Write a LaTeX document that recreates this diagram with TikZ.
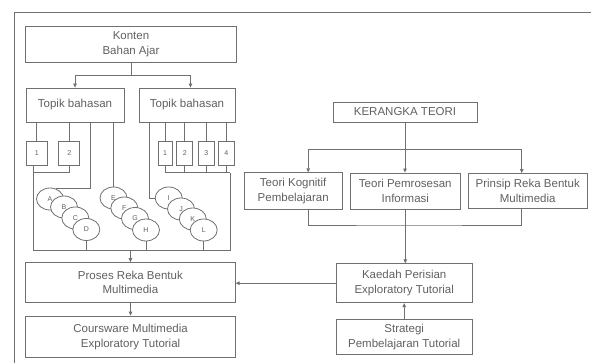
\documentclass[tikz,border=0pt]{standalone}
\usepackage{fontspec}
\setmainfont{Liberation Sans}
\usetikzlibrary{arrows.meta,shapes.geometric}
\definecolor{garis}{HTML}{707070}
\definecolor{teks}{HTML}{606060}
\tikzstyle{garisan} = [draw=garis, line width=0.8pt]
\tikzstyle{aliran} = [draw=garis, line width=0.8pt, -{Triangle[length=4pt,width=3.5pt]}]
\tikzstyle{kotak} = [draw=garis, line width=0.8pt, rectangle, inner sep=0pt, align=center, text=teks, font=\fontsize{11.5}{14.5}\selectfont]
\tikzstyle{nombor} = [draw=garis, line width=0.8pt, rectangle, inner sep=0pt, minimum width=16pt, minimum height=24pt, text=teks, font=\fontsize{7}{8}\selectfont]
\tikzstyle{bulat} = [draw=garis, fill=white, line width=0.8pt, ellipse, inner sep=0pt, minimum width=27pt, minimum height=22pt, text=teks, font=\fontsize{7}{8}\selectfont]

\begin{document}
\begin{tikzpicture}[x=1pt,y=-1pt]
	\useasboundingbox (0,0) rectangle (591,363);
	\draw[garisan] (591,12.5) -- (14.5,12.5) -- (14.5,363);
	% bahagian kiri
	\node[kotak, minimum width=211pt, minimum height=36pt](konten) at (131,44) {Konten\\Bahan Ajar};
	\node[kotak, minimum width=98pt, minimum height=34pt](topikA) at (75,105) {Topik bahasan};
	\node[kotak, minimum width=96pt, minimum height=34pt](topikB) at (187,105) {Topik bahasan};
	\node[nombor, minimum width=21pt](a1) at (36.7,153) {1};
	\node[nombor, minimum width=21pt](a2) at (69.3,153) {2};
	\node[nombor, minimum width=14pt](b1) at (165,153) {1};
	\node[nombor](b2) at (184.7,153) {2};
	\node[nombor](b3) at (206.3,153) {3};
	\node[nombor](b4) at (226.3,153) {4};
	\node[bulat](cA) at (50,199) {A};
	\node[bulat](cB) at (64,207) {B};
	\node[bulat](cC) at (75.3,218) {C};
	\node[bulat](cD) at (86.3,229.5) {D};
	\node[bulat](cE) at (113.5,198) {E};
	\node[bulat](cF) at (124.3,208) {F};
	\node[bulat](cG) at (135,218.5) {G};
	\node[bulat](cH) at (146,230) {H};
	\node[bulat](cI) at (168.7,198) {I};
	\node[bulat](cJ) at (181,209) {J};
	\node[bulat](cK) at (192.8,219) {K};
	\node[bulat](cL) at (203.7,230) {L};
	\node[kotak, minimum width=209.5pt, minimum height=40pt](proses) at (130.4,282.6) {Proses Reka Bentuk\\Multimedia};
	\node[kotak, minimum width=210pt, minimum height=41.5pt](coursware) at (130.6,336.8) {Coursware Multimedia\\Exploratory Tutorial};
	\coordinate (busL) at (33,250);
	\coordinate (busR) at (230,250);
	\coordinate (sambung) at (230,172.7);
	\draw[garisan] (konten.south) -- ++(0,13) coordinate (kbawah);
	\draw[aliran] (kbawah) -| (topikA.north);
	\draw[aliran] (kbawah) -| ([xshift=3.5pt]topikB.north);
	\draw[garisan] (a1.north) -- (a1.north |- topikA.south);
	\draw[garisan] (a2.north) -- (a2.north |- topikA.south);
	\draw[garisan] ([xshift=15pt]topikA.south) |- (cA.61);
	\draw[garisan] (topikA.south -| cE.north) -- (cE.north);
	\draw[garisan] ([xshift=-38pt]topikB.south) |- (cI.west);
	\foreach \k in {b1,b2,b3,b4}
		\draw[garisan] (\k.north) -- (\k.north |- topikB.south);
	\draw[garisan] (busL |- a1.south) -- (busL) -- (busR) -- (sambung);
	\draw[garisan] (a2.south) |- (busL |- sambung);
	\draw[garisan] (b1.south) |- (sambung);
	\foreach \k in {b2,b3,b4}
		\draw[garisan] (\k.south) -- (\k.south |- sambung);
	\foreach \k in {cD,cH,cL}
		\draw[garisan] (\k.south) -- (\k.south |- busL);
	\draw[aliran] (proses.north |- busL) -- (proses.north);
	\draw[aliran] (proses.south) -- (coursware.north);
	% bahagian kanan
	\node[kotak, minimum width=144pt, minimum height=20pt](kerangka) at (405,112) {KERANGKA TEORI};
	\node[kotak, minimum width=98pt, minimum height=36.6pt](kognitif) at (293.2,191) {Teori Kognitif\\Pembelajaran};
	\node[kotak, minimum width=109.3pt, minimum height=36pt](pemrosesan) at (405.3,191) {Teori Pemrosesan\\Informasi};
	\node[kotak, minimum width=118.7pt, minimum height=35pt](prinsip) at (527.7,191) {Prinsip Reka Bentuk\\Multimedia};
	\node[kotak, minimum width=136.3pt, minimum height=39pt](kaedah) at (404.2,283.2) {Kaedah Perisian\\Exploratory Tutorial};
	\node[kotak, minimum width=136.3pt, minimum height=35pt](strategi) at (404.2,337.2) {Strategi\\Pembelajaran Tutorial};
	\coordinate (cabang) at (404,149.3);
	\coordinate (gabung) at (404,225);
	\draw[aliran] (kerangka.south) -- (kerangka.south |- pemrosesan.north);
	\draw[aliran] (cabang) -| ([xshift=15pt]kognitif.north);
	\draw[aliran] (cabang) -| ([xshift=-6pt]prinsip.north);
	\draw[garisan] ([xshift=15pt]kognitif.south) |- (gabung) -| ([xshift=-6pt]prinsip.south);
	\draw[aliran] (pemrosesan.south) -- (pemrosesan.south |- kaedah.north);
	\draw[aliran] (strategi.north) -- (kaedah.south);
	\draw[aliran] (kaedah.west) -- (kaedah.west -| proses.east);
\end{tikzpicture}
\end{document}
